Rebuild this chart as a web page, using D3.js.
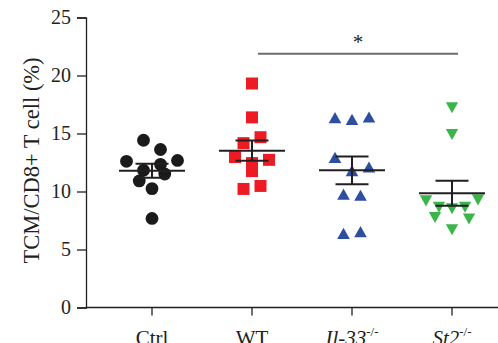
<!DOCTYPE html>
<html>
<head>
<meta charset="utf-8">
<script src="https://cdn.jsdelivr.net/npm/d3@7"></script>
<style>
  body { margin: 0; background: #fff; }
  text { font-family: "Liberation Serif", "Times New Roman", serif; fill: #231f20; }
</style>
</head>
<body>
<svg id="chart" width="498" height="343"></svg>
<script>
// values (TCM / CD8+ T cell, %)
const groups = ["Ctrl", "WT", "Il-33", "St2"]
const knockout = [false, false, true, true]
const ctrlVals = [14.42, 13.62, 12.60, 11.83, 12.34, 12.68, 10.91, 11.51, 10.25, 7.68]
const wtVals = [19.31, 16.39, 14.17, 14.68, 12.97, 12.45, 12.73, 11.76, 10.22, 10.48]
const il33Vals = [16.37, 16.22, 16.42, 12.94, 11.80, 12.11, 9.77, 9.68, 6.39, 6.54]
const st2Vals = [17.22, 14.91, 9.19, 8.65, 8.51, 8.65, 9.28, 7.76, 6.71, 7.63]
const yTicks = [0, 5, 10, 15, 20, 25]
const sigPair = ["WT", "St2"]
const sigLabel = "*"

const series = [ctrlVals, wtVals, il33Vals, st2Vals]
const colors = ["#1a1a1a", "#ed1c24", "#2e4fa0", "#3ab54a"]

const svg = d3.select("#chart")
const mLeft = 86, mTop = 17.5, mBottom = 307.5, mRight = 498

const y = d3.scaleLinear().domain([0, 25]).range([mBottom, mTop])
const x = d3.scaleBand().domain(groups).range([102, 502])

// triangles centred on their bounding box, like the original plot
const triUp = { draw(ctx, size) {
  const w = Math.sqrt(size) * 1.1, h = w * 0.88
  ctx.moveTo(0, -h / 2); ctx.lineTo(w / 2, h / 2); ctx.lineTo(-w / 2, h / 2); ctx.closePath()
}}
const triDown = { draw(ctx, size) {
  const w = Math.sqrt(size) * 1.1, h = w * 0.9
  ctx.moveTo(0, h / 2); ctx.lineTo(w / 2, -h / 2); ctx.lineTo(-w / 2, -h / 2); ctx.closePath()
}}
const shapes = [
  d3.symbol(d3.symbolCircle, Math.PI * 6.4 * 6.4),
  d3.symbol(d3.symbolSquare, 144),
  d3.symbol(triUp, 132),
  d3.symbol(triDown, 125)
]

// prism-like scatter: bin points into rows, spread each row symmetrically
function scatterOffsets(vals) {
  const py = vals.map(v => y(v))
  const order = d3.range(vals.length).sort((a, b) => py[a] - py[b])
  const rows = []
  let cur = []
  order.forEach(i => {
    if (cur.length && py[i] - py[cur[0]] >= 13.5) { rows.push(cur); cur = [] }
    cur.push(i)
  })
  if (cur.length) rows.push(cur)
  const off = new Array(vals.length).fill(0)
  const placed = []
  rows.forEach(row => {
    row.sort((a, b) => a - b)
    const n = row.length
    let sp = n > 1 ? Math.min(17, 52 / (n - 1)) : 0
    for (let tries = 0; tries < 6; tries++) {
      const ok = row.every((i, k) => {
        const dx = (k - (n - 1) / 2) * sp
        return placed.every(p => Math.hypot(p[0] - dx, p[1] - py[i]) >= 10.5)
      })
      if (ok || n < 2) break
      sp += 8.5
    }
    row.forEach((i, k) => {
      off[i] = (k - (n - 1) / 2) * sp
      placed.push([off[i], py[i]])
    })
  })
  return off
}

// y axis
const yAxis = svg.append("g")
  .attr("transform", `translate(${mLeft},0)`)
  .call(d3.axisLeft(y).tickValues(yTicks).tickSize(9).tickPadding(6))
yAxis.selectAll("path, line").attr("stroke", "#231f20").attr("stroke-width", 1.3)
yAxis.selectAll("text").style("font-size", "20px").attr("fill", "#231f20")
  .style("font-family", '"Liberation Serif", serif')

svg.append("text")
  .attr("transform", "rotate(-90)")
  .attr("x", -(mTop + mBottom) / 2 + 2)
  .attr("y", 39)
  .attr("text-anchor", "middle")
  .style("font-size", "22.5px")
  .text("TCM/CD8+ T cell (%)")

// x axis
const xAxis = svg.append("g")
  .attr("transform", `translate(0,${mBottom})`)
  .call(d3.axisBottom(x).tickSize(8).tickFormat(""))
xAxis.select(".domain").remove()
xAxis.selectAll("line").attr("stroke", "#231f20").attr("stroke-width", 1.3)
svg.append("line")
  .attr("x1", mLeft).attr("x2", mRight)
  .attr("y1", mBottom).attr("y2", mBottom)
  .attr("stroke", "#231f20").attr("stroke-width", 1.3)

// category labels sit at the bottom edge, partly cropped as in the source
const labels = svg.append("g")
groups.forEach((g, i) => {
  const t = labels.append("text")
    .attr("x", x(g) + x.bandwidth() / 2)
    .attr("y", 345)
    .attr("text-anchor", "middle")
    .style("font-size", "21px")
  if (knockout[i]) {
    t.append("tspan").style("font-style", "italic").text(g)
    t.append("tspan").attr("dy", -9).style("font-size", "13px").text("-/-")
  } else {
    t.text(g)
  }
})

// points + mean ± SEM
series.forEach((vals, gi) => {
  const cx = x(groups[gi]) + x.bandwidth() / 2
  const offs = scatterOffsets(vals)
  svg.append("g").selectAll("path")
    .data(vals)
    .join("path")
    .attr("d", shapes[gi])
    .attr("fill", colors[gi])
    .attr("transform", (d, i) => `translate(${cx + offs[i]},${y(d)})`)

  const m = d3.mean(vals)
  const sem = d3.deviation(vals) / Math.sqrt(vals.length)
  const eb = svg.append("g").attr("stroke", "#231f20").attr("stroke-width", 2)
  eb.append("line").attr("x1", cx - 33).attr("x2", cx + 33).attr("y1", y(m)).attr("y2", y(m))
  eb.append("line").attr("x1", cx).attr("x2", cx).attr("y1", y(m + sem)).attr("y2", y(m - sem))
  eb.append("line").attr("x1", cx - 16.5).attr("x2", cx + 16.5).attr("y1", y(m + sem)).attr("y2", y(m + sem))
  eb.append("line").attr("x1", cx - 16.5).attr("x2", cx + 16.5).attr("y1", y(m - sem)).attr("y2", y(m - sem))
})

// significance bar
const sx1 = x(sigPair[0]) + x.bandwidth() / 2 + 6
const sx2 = x(sigPair[1]) + x.bandwidth() / 2 + 6
svg.append("line")
  .attr("x1", sx1).attr("x2", sx2).attr("y1", 53.7).attr("y2", 53.7)
  .attr("stroke", "#6d6d6d").attr("stroke-width", 2)
svg.append("text")
  .attr("x", (sx1 + sx2) / 2)
  .attr("y", 49)
  .attr("text-anchor", "middle")
  .style("font-size", "21px")
  .text(sigLabel)
</script>
</body>
</html>
